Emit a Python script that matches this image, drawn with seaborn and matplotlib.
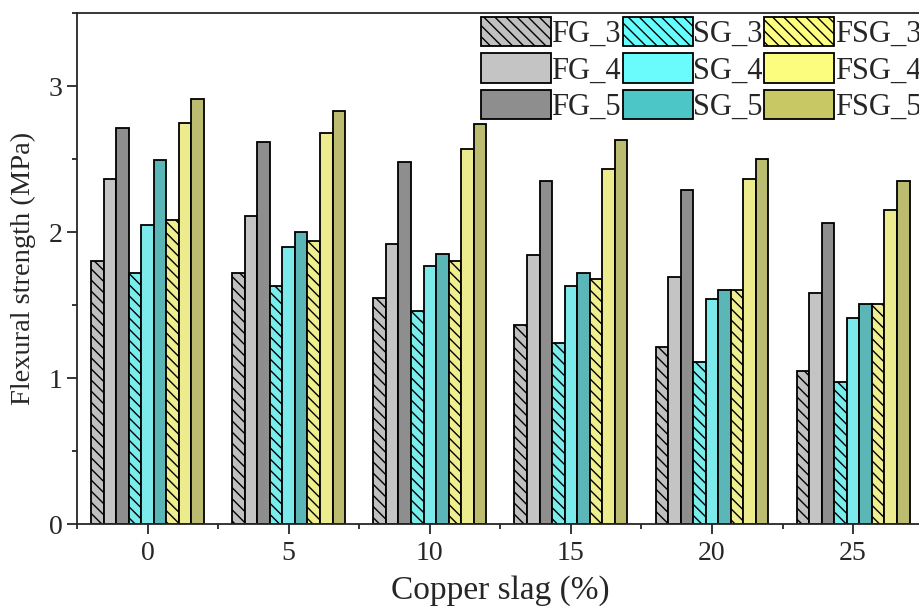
import numpy as np
import pandas as pd
import matplotlib
matplotlib.use('Agg')
import matplotlib.pyplot as plt
from matplotlib.patches import Patch
from matplotlib.ticker import MultipleLocator, FixedLocator
import seaborn as sns

# copper slag replacement levels (%)
slag = ['0', '5', '10', '15', '20', '25']

# flexural strength (MPa) per mix
fg_3 = [1.80, 1.72, 1.55, 1.36, 1.21, 1.05]
fg_4 = [2.36, 2.11, 1.92, 1.84, 1.69, 1.58]
fg_5 = [2.71, 2.62, 2.48, 2.35, 2.29, 2.06]
sg_3 = [1.72, 1.63, 1.46, 1.24, 1.11, 0.97]
sg_4 = [2.05, 1.90, 1.77, 1.63, 1.54, 1.41]
sg_5 = [2.49, 2.00, 1.85, 1.72, 1.60, 1.51]
fsg_3 = [2.08, 1.94, 1.80, 1.68, 1.60, 1.51]
fsg_4 = [2.75, 2.68, 2.57, 2.43, 2.36, 2.15]
fsg_5 = [2.91, 2.83, 2.74, 2.63, 2.50, 2.35]

mixes = ['FG_3', 'FG_4', 'FG_5', 'SG_3', 'SG_4', 'SG_5', 'FSG_3', 'FSG_4', 'FSG_5']
series = [fg_3, fg_4, fg_5, sg_3, sg_4, sg_5, fsg_3, fsg_4, fsg_5]

colors = ['#C0C0C0', '#C4C4C4', '#8E8E8E',
          '#66FFFF', '#6AFCFC', '#4CC6C6',
          '#FFFF80', '#FCFC7E', '#C8C864']
hatches = ['\\\\\\', '', '', '\\\\\\', '', '', '\\\\\\', '', '']

rows = []
for mix, vals in zip(mixes, series):
    for s, v in zip(slag, vals):
        rows.append({'slag': s, 'mix': mix, 'strength': v})
df = pd.DataFrame(rows)

sns.set_style('ticks')
plt.rcParams['font.family'] = ['Liberation Serif', 'DejaVu Serif']
plt.rcParams['hatch.linewidth'] = 1.0

fig = plt.figure(figsize=(9.2, 6.06), dpi=100)
ax = fig.add_axes([0.0837, 0.1353, 0.9203, 0.8432])

sns.barplot(data=df, x='slag', y='strength', hue='mix', order=slag,
            hue_order=mixes, palette=colors, width=0.8, edgecolor='black',
            linewidth=1.3, legend=False, ax=ax)

for cont, h in zip(ax.containers, hatches):
    for bar in cont:
        bar.set_hatch(h)

ax.set_xlim(-0.5, 5.5)
ax.set_ylim(0, 3.5)
ax.yaxis.set_major_locator(MultipleLocator(1))
ax.yaxis.set_minor_locator(MultipleLocator(0.5))
ax.xaxis.set_minor_locator(FixedLocator(np.arange(-0.5, 6, 1)))

ax.tick_params(which='major', direction='out', length=7, width=1.3, labelsize=20)
ax.tick_params(axis='x', which='major', pad=5)
ax.tick_params(which='minor', direction='out', length=3.5, width=1.3)
for sp in ax.spines.values():
    sp.set_linewidth(1.3)

ax.set_xlabel('Copper slag (%)', fontsize=24, labelpad=7)
ax.set_ylabel('Flexural strength (MPa)', fontsize=20.5, labelpad=9)

handles = [Patch(facecolor=c, edgecolor='black', hatch=h, linewidth=1.3)
           for c, h in zip(colors, hatches)]
fig.legend(handles, mixes, loc='upper left', bbox_to_anchor=(0.5228, 0.9718),
           ncol=3, frameon=False, fontsize=22, handlelength=2.29,
           handleheight=1.1, handletextpad=0.02, columnspacing=0.05,
           labelspacing=0.14, borderpad=0, borderaxespad=0)

fig.savefig('out.png', dpi=100)
plt.close(fig)
